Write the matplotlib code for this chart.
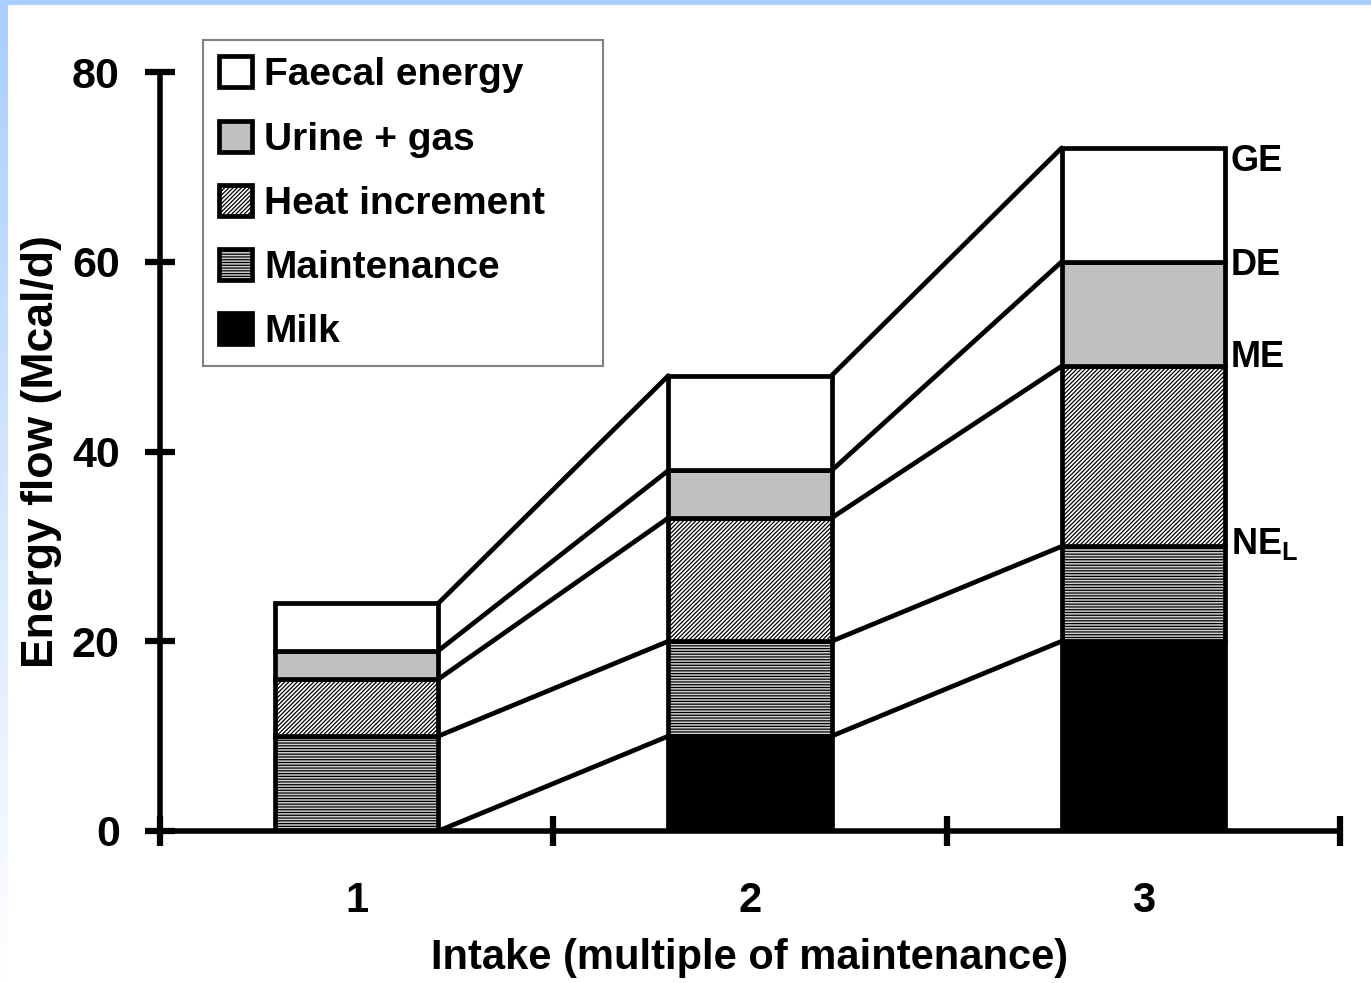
import numpy as np
import matplotlib
matplotlib.use("Agg")
import matplotlib.pyplot as plt
from matplotlib.patches import Patch, Rectangle
from matplotlib.colors import LinearSegmentedColormap

# ---------------- data ----------------
categories = [1, 2, 3]
category_labels = ["1", "2", "3"]
milk = [0, 10, 20]
maintenance = [10, 10, 10]
heat_increment = [6, 13, 19]
urine_gas = [3, 5, 11]
faecal = [5, 10, 12]
series_names = ["Milk", "Maintenance", "Heat increment", "Urine + gas", "Faecal energy"]
level_labels = ["NE$_\\mathrm{L}$", "ME", "DE", "GE"]
y_ticks = [0, 20, 40, 60, 80]

plt.rcParams["font.family"] = ["Liberation Sans", "DejaVu Sans"]
plt.rcParams["font.weight"] = "bold"
plt.rcParams["mathtext.fontset"] = "custom"
plt.rcParams["mathtext.rm"] = "Liberation Sans:bold"
plt.rcParams["mathtext.bf"] = "Liberation Sans:bold"
plt.rcParams["hatch.linewidth"] = 0.9

W, H = 1371, 983
fig = plt.figure(figsize=(W / 100, H / 100), dpi=100, facecolor="white")

# background frame: top band and left gradient band
fig.patches.append(Rectangle((0, 1 - 5 / H), 1, 5 / H, transform=fig.transFigure,
                             facecolor="#a8cfff", edgecolor="none", zorder=0))
gax = fig.add_axes([0, 0, 7 / W, 1 - 5 / H], zorder=-1)
grad = np.linspace(0, 1, 256).reshape(-1, 1)
cmap = LinearSegmentedColormap.from_list("bg", ["#ffffff", "#a8cfff"])
gax.imshow(grad, aspect="auto", cmap=cmap, origin="lower", extent=[0, 1, 0, 1])
gax.axis("off")

ax = fig.add_axes([160 / W, 1 - 831 / H, (1340 - 160) / W, (831 - 72) / H])
ax.set_facecolor("none")

layers = [milk, maintenance, heat_increment, urine_gas, faecal]
faces = ["black", "#d0d0d0", "white", "#c0c0c0", "white"]
hatches = [None, "------", "////////", None, None]
bar_w = 0.415
x = np.array(categories, dtype=float)
LW = 3.4

bottom = np.zeros(len(categories))
levels = []
for vals, fc, hh in zip(layers, faces, hatches):
    vals = np.array(vals, dtype=float)
    ax.bar(x, vals, bottom=bottom, width=bar_w, facecolor=fc, edgecolor="black",
           linewidth=LW, hatch=hh, zorder=2)
    bottom = bottom + vals
    levels.append(bottom.copy())

# connecting lines between bars at each cumulative level
for lev in levels:
    for i in range(len(categories) - 1):
        ax.plot([x[i] + bar_w / 2, x[i + 1] - bar_w / 2], [lev[i], lev[i + 1]],
                color="black", lw=LW, zorder=3, solid_capstyle="round")

# energy level labels next to the last bar
offsets = [0.3, 0.9, -0.4, -1.4]
for lab, lev, off in zip(level_labels, levels[1:], offsets):
    ax.text(x[-1] + bar_w / 2 + 0.015, lev[-1] + off, lab, fontsize=26, fontweight="bold",
            va="center", ha="left")

ax.set_xlim(0.5, 3.5)
ax.set_ylim(0, 80)
ax.set_yticks(y_ticks)
ax.set_xticks([0.5, 1.5, 2.5, 3.5])
ax.set_xticklabels([])
ax.set_xticks(categories, minor=True)
ax.set_xticklabels(category_labels, minor=True)
ax.tick_params(axis="x", which="minor", length=0, pad=36, labelsize=30)
ax.tick_params(axis="x", which="major", direction="inout", length=22, width=4.5)
ax.tick_params(axis="y", direction="inout", length=22, width=4.5, pad=18, labelsize=31)
for s in ["top", "right"]:
    ax.spines[s].set_visible(False)
for s in ["left", "bottom"]:
    ax.spines[s].set_linewidth(4)
    ax.spines[s].set_zorder(4)

ax.set_ylabel("Energy flow (Mcal/d)", fontsize=32, fontweight="bold")
ax.set_xlabel("Intake (multiple of maintenance)", fontsize=30, fontweight="bold")
ax.yaxis.set_label_coords(-118 / (1340 - 160), 0.5)
ax.xaxis.set_label_coords(0.5, -(958 - 831) / (831 - 72))
ax.xaxis.label.set_va("center")
ax.yaxis.label.set_va("center")

handles = []
for name, fc, hh in zip(series_names, faces, hatches):
    handles.append(Patch(facecolor=fc, edgecolor="black", linewidth=LW, hatch=hh, label=name))
handles = handles[::-1]
leg = ax.legend(handles=handles, loc="upper left", mode="expand",
                bbox_to_anchor=(203 / W, 1 - 363 / H, 400 / W, 323 / H),
                bbox_transform=fig.transFigure, borderaxespad=0,
                fontsize=28, handlelength=0.85, handleheight=0.85,
                handletextpad=0.3, labelspacing=0.7, borderpad=0.42,
                fancybox=False, framealpha=1, edgecolor="#808080")
leg.get_frame().set_linewidth(1.5)
for t in leg.get_texts():
    t.set_fontweight("bold")

fig.savefig("out.png", dpi=100, facecolor="white")
